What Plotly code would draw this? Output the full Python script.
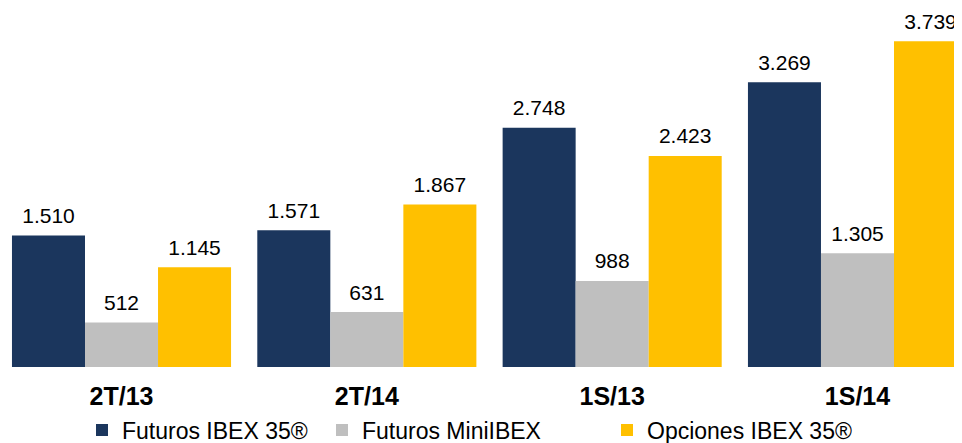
import plotly.graph_objects as go

categories = ["2T/13", "2T/14", "1S/13", "1S/14"]
futuros_ibex = [1510, 1571, 2748, 3269]
futuros_mini = [512, 631, 988, 1305]
opciones_ibex = [1145, 1867, 2423, 3739]
series_names = ["Futuros IBEX 35®", "Futuros MiniIBEX", "Opciones IBEX 35®"]
colors = ["#1B365D", "#BFBFBF", "#FFC000"]


def fmt(v):
    return f"{v:,}".replace(",", ".")


FONT = "Arial, Liberation Sans, sans-serif"
fig = go.Figure()
all_vals = [futuros_ibex, futuros_mini, opciones_ibex]
for i, (name, vals, col) in enumerate(zip(series_names, all_vals, colors)):
    fig.add_trace(go.Bar(
        x=categories, y=vals, name=name,
        marker=dict(color=col, line=dict(width=0)),
        legend="legend" if i == 0 else f"legend{i+1}",
        showlegend=True,
    ))
for i, vals in enumerate(all_vals):
    fig.add_trace(go.Scatter(
        x=categories, y=vals, mode="markers+text",
        marker=dict(size=10, opacity=0, color=colors[i]),
        text=[fmt(v) for v in vals], textposition="top center",
        textfont=dict(family=FONT, size=21, color="#000000"),
        cliponaxis=False, showlegend=False, hoverinfo="skip",
    ))

H = 435
legend_common = dict(orientation="h", yanchor="middle", yref="container", y=1 - 422 / H,
                     xref="container", xanchor="left",
                     font=dict(family=FONT, size=23, color="#000000"),
                     bgcolor="rgba(0,0,0,0)", borderwidth=0)
fig.update_layout(
    width=954, height=H,
    margin=dict(l=0, r=0, t=0, b=76, autoexpand=False),
    paper_bgcolor="white", plot_bgcolor="white",
    showlegend=True,
    barmode="group", bargap=0.107, bargroupgap=0,
    scattermode="group", scattergap=0.107,
    xaxis=dict(range=[-0.4627, 3.4260], showline=False, showgrid=False, zeroline=False,
               ticks="", ticklabelstandoff=12,
               tickfont=dict(family=FONT, size=25, color="#000000", weight="bold")),
    yaxis=dict(range=[0, 4122], visible=False),
    legend=dict(x=74 / 954, **legend_common),
    legend2=dict(x=314 / 954, **legend_common),
    legend3=dict(x=599 / 954, **legend_common),
)
fig.write_html("out.html")
